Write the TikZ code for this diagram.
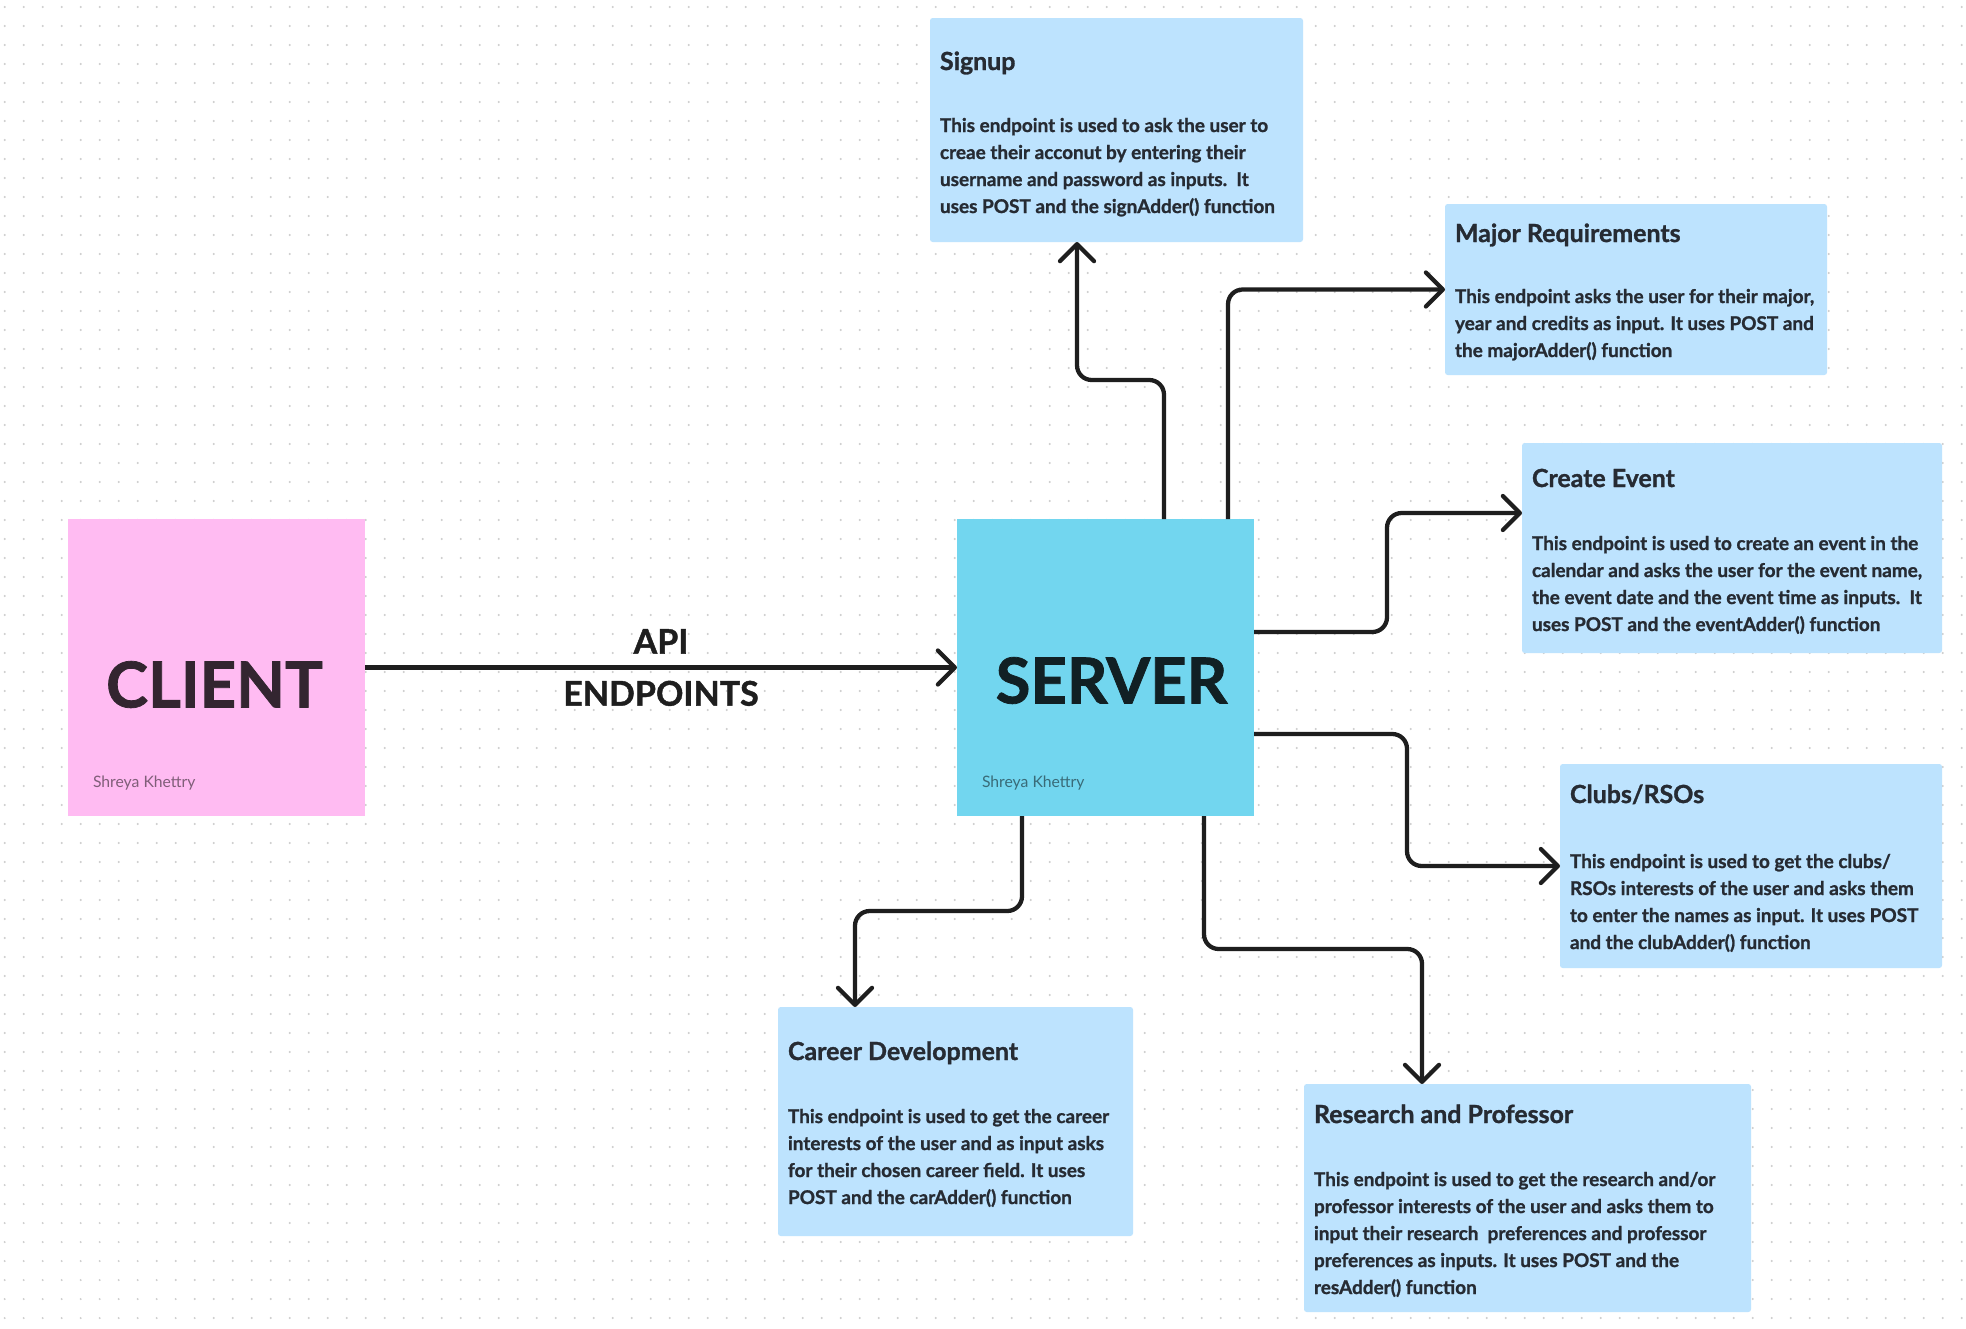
\documentclass[tikz,border=0pt]{standalone}
\usepackage{fontspec}
\setmainfont{Lato}[BoldFeatures={FakeBold=1.2}]
\usetikzlibrary{arrows.meta, calc, positioning}

\definecolor{clientpink}{HTML}{FFBBF2}
\definecolor{servercyan}{HTML}{72D6EF}
\definecolor{notablue}{HTML}{BDE3FE}
\definecolor{inkdark}{HTML}{1E1E1E}
\definecolor{textdark}{HTML}{262B33}

\begin{document}
\begin{tikzpicture}[
    x=0.75pt, y=-0.75pt,
    >={Straight Barb[length=12.75pt, width=25.5pt, line cap=round, line join=round]},
    every node/.style={inner sep=0pt, outer sep=0pt},
    sticky note/.style={rectangle, anchor=north west, minimum width=222.75pt, minimum height=222.75pt},
    endpoint box/.style={rectangle, anchor=north west, fill=notablue, rounded corners=2pt},
    endpoint title/.style={anchor=base west, text=textdark, font=\fontsize{18.7pt}{22pt}\selectfont\bfseries},
    endpoint text/.style={anchor=base west, align=left, text=textdark, font=\fontsize{14.2pt}{20.25pt}\selectfont\bfseries},
    big label/.style={font=\fontsize{47.5pt}{52pt}\selectfont\bfseries},
    author label/.style={anchor=base west, font=\fontsize{11.8pt}{13pt}\selectfont},
    endpoint link/.style={draw=inkdark, line width=3.2pt, ->, rounded corners=11pt},
    api link/.style={draw=inkdark, line width=3.2pt, ->},
    grid dots/.style={draw=gray!40, line width=1.6pt, line cap=round, dash pattern=on 0pt off 14.25pt}
]

% ---- Fondo con puntos ----
\fill[white] (0,0) rectangle (1966,1328);
\useasboundingbox (0,0) rectangle (1966,1328);
\foreach \r in {0,...,69}
    \draw[grid dots] (4.7,7+19*\r) -- (1966,7+19*\r);

% ---- Notas: cliente y servidor ----
\node[sticky note, fill=clientpink] (client) at (68,519) {};
\node[sticky note, fill=servercyan] (server) at (957,519) {};
\node[big label, text=black!80!clientpink] (clienttext) at ($(client.center)+(-2,17)$) {CLIENT};
\node[big label, text=black!85!servercyan] (servertext) at ($(server.center)+(6,13)$) {SERVER};
\node[author label, text=black!50!clientpink] (clientauthor) at ($(client.south west)+(25,-29)$) {Shreya Khettry};
\node[author label, text=black!50!servercyan] (serverauthor) at ($(server.south west)+(25,-29)$) {Shreya Khettry};

% ---- Cajas de endpoints ----
\node[endpoint box, minimum width=279.75pt, minimum height=168pt] (signup) at (930,18) {};
\node[endpoint box, minimum width=286.5pt, minimum height=128.25pt] (major) at (1445,204) {};
\node[endpoint box, minimum width=315pt, minimum height=157.5pt] (event) at (1522,443) {};
\node[endpoint box, minimum width=286.5pt, minimum height=153pt] (clubs) at (1560,764) {};
\node[endpoint box, minimum width=266.25pt, minimum height=171.75pt] (career) at (778,1007) {};
\node[endpoint box, minimum width=335.25pt, minimum height=171pt] (research) at (1304,1084) {};

% ---- Textos de las cajas (base = ultima linea) ----
\node[endpoint title] (signuptitle) at ($(signup.north west)+(10,52)$) {Signup};
\node[endpoint text] (signuptext) at ($(signup.north west)+(10,195)$) {This endpoint is used to ask the user to\\creae their acconut by entering their\\username and password as inputs.\ \ It\\uses POST and the signAdder() function};

\node[endpoint title] (majortitle) at ($(major.north west)+(10,38)$) {Major Requirements};
\node[endpoint text] (majortext) at ($(major.north west)+(10,153)$) {This endpoint asks the user for their major,\\year and credits as input. It uses POST and\\the majorAdder() function};

\node[endpoint title] (eventtitle) at ($(event.north west)+(10,44)$) {Create Event};
\node[endpoint text] (eventtext) at ($(event.north west)+(10,188)$) {This endpoint is used to create an event in the\\calendar and asks the user for the event name,\\the event date and the event time as inputs.\ \ It\\uses POST and the eventAdder() function};

\node[endpoint title] (clubstitle) at ($(clubs.north west)+(10,39)$) {Clubs/RSOs};
\node[endpoint text] (clubstext) at ($(clubs.north west)+(10,185)$) {This endpoint is used to get the clubs/\\RSOs interests of the user and asks them\\to enter the names as input. It uses POST\\and the clubAdder() function};

\node[endpoint title] (careertitle) at ($(career.north west)+(10,53)$) {Career Development};
\node[endpoint text] (careertext) at ($(career.north west)+(10,197)$) {This endpoint is used to get the career\\interests of the user and as input asks\\for their chosen career field. It uses\\POST and the carAdder() function};

\node[endpoint title] (researchtitle) at ($(research.north west)+(10,39)$) {Research and Professor};
\node[endpoint text] (researchtext) at ($(research.north west)+(10,210)$) {This endpoint is used to get the research and/or\\professor interests of the user and asks them to\\input their research\ \ preferences and professor\\preferences as inputs. It uses POST and the\\resAdder() function};

% ---- Flecha cliente -> servidor ----
\draw[api link] (client.east) -- node[align=center, text=inkdark, font=\fontsize{25.5pt}{39pt}\selectfont\bfseries] (apilabel) {API\\ENDPOINTS} (server.west);

% ---- Rutas del servidor a cada endpoint ----
\coordinate (su1) at (1164,380);
\coordinate (su2) at (1077,380);
\draw[endpoint link] (server.north -| su1) -- (su1) -- (su2) -- (signup.south -| su2);

\coordinate (mr1) at (1228,291);
\draw[endpoint link] (server.north -| mr1) |- (major.west);

\coordinate (ce1) at (1387,632);
\coordinate (ce2) at (1387,513);
\draw[endpoint link] (server.east |- ce1) -- (ce1) -- (ce2) -- (event.west |- ce2);

\coordinate (cl1) at (1407,734);
\draw[endpoint link] (server.east |- cl1) -- (cl1) |- (clubs.west);

\coordinate (cd1) at (1022,911);
\coordinate (cd2) at (855,911);
\draw[endpoint link] (server.south -| cd1) -- (cd1) -- (cd2) -- (career.north -| cd2);

\coordinate (rp1) at (1204,949);
\coordinate (rp2) at (1422,949);
\draw[endpoint link] (server.south -| rp1) -- (rp1) -- (rp2) -- (research.north -| rp2);

\end{tikzpicture}
\end{document}
